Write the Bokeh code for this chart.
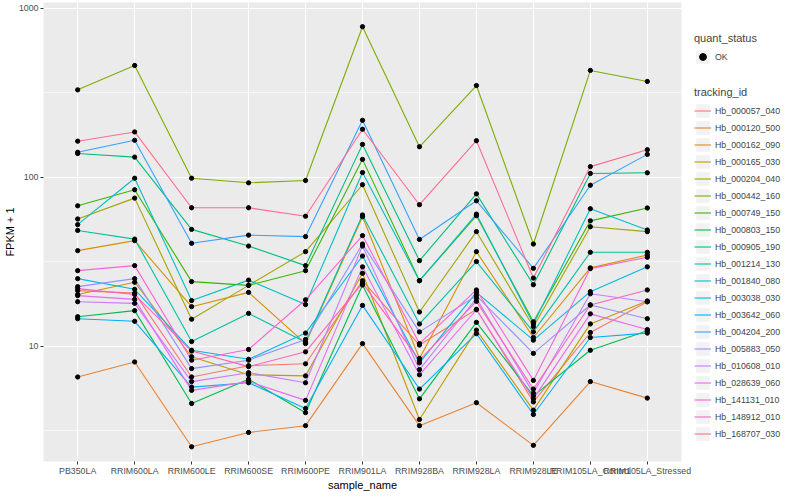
from bokeh.plotting import figure
from bokeh.models import Range1d, FixedTicker, Legend, LegendItem, BasicTickFormatter
from bokeh.layouts import row
from bokeh.embed import file_html
from bokeh.resources import INLINE

FONT = "Liberation Sans"

samples = ["PB350LA", "RRIM600LA", "RRIM600LE", "RRIM600SE", "RRIM600PE", "RRIM901LA",
           "RRIM928BA", "RRIM928LA", "RRIM928LE", "RRIM105LA_Control", "RRIM105LA_Stressed"]

tracking_ids = ["Hb_000057_040", "Hb_000120_500", "Hb_000162_090", "Hb_000165_030", "Hb_000204_040",
                "Hb_000442_160", "Hb_000749_150", "Hb_000803_150", "Hb_000905_190", "Hb_001214_130",
                "Hb_001840_080", "Hb_003038_030", "Hb_003642_060", "Hb_004204_200", "Hb_005883_050",
                "Hb_010608_010", "Hb_028639_060", "Hb_141131_010", "Hb_148912_010", "Hb_168707_030"]

colors = ["#F8766D", "#EA8331", "#D89000", "#C09B00", "#A3A500", "#7CAE00", "#39B600", "#00BB4E",
          "#00BF7D", "#00C1A3", "#00BFC4", "#00BAE0", "#00B0F6", "#35A2FF", "#9590FF", "#C77CFF",
          "#E76BF3", "#FA62DB", "#FF62BC", "#FF6C91"]

# FPKM + 1 per sample (order of `samples`)
hb_000057_040 = [21.4, 20.7, 6.6, 7.7, 7.9, 24.5, 10.2, 16.6, 4.7, 12.1, 18.4]
hb_000120_500 = [6.6, 8.1, 2.55, 3.1, 3.4, 10.4, 3.4, 4.65, 2.6, 6.2, 4.95]
hb_000162_090 = [36.9, 42.3, 17.2, 20.9, 10.4, 58.6, 8.5, 36.4, 11.3, 29.2, 34.8]
hb_000165_030 = [20.3, 24.0, 8.7, 6.8, 6.7, 27.1, 3.7, 12.5, 4.2, 13.6, 18.6]
hb_000204_040 = [56.8, 75.5, 14.5, 23.0, 36.4, 90.6, 16.0, 47.8, 13.1, 51.1, 47.8]
hb_000442_160 = [330, 460, 99, 93, 96, 780, 152, 350, 40.4, 430, 370]
hb_000749_150 = [68, 84.6, 24.2, 23.0, 28.1, 128, 24.5, 59.4, 14.0, 55.4, 66]
hb_000803_150 = [15.0, 16.3, 4.6, 6.4, 4.06, 23.1, 4.9, 13.9, 5.1, 9.5, 12.4]
hb_000905_190 = [138.6, 132, 49.3, 39.3, 30.1, 157, 32.2, 80, 23.2, 105.6, 106.6]
hb_001214_130 = [48.6, 43.2, 10.7, 15.7, 10.6, 60, 13.6, 31.8, 12.2, 36.1, 36.1]
hb_001840_080 = [52.6, 99, 18.7, 24.7, 17.7, 107, 24.5, 60.7, 13.6, 65.3, 48.9]
hb_003038_030 = [25.2, 21.8, 9.5, 8.4, 12.0, 34.3, 8.0, 20.9, 10.9, 21.1, 29.6]
hb_003642_060 = [14.6, 14.1, 5.75, 6.1, 4.3, 17.5, 5.6, 11.9, 3.96, 11.3, 12.0]
hb_004204_200 = [141, 166, 40.8, 45.6, 44.7, 218, 43, 72.8, 29, 90, 137]
hb_005883_050 = [22.6, 25.2, 7.4, 8.3, 11.0, 40.4, 12.2, 20.0, 9.1, 17.6, 14.6]
hb_010608_010 = [18.4, 18.0, 6.2, 7.0, 6.1, 39.3, 7.3, 19.3, 5.3, 20.5, 18.4]
hb_028639_060 = [20.0, 19.0, 5.5, 6.2, 4.8, 29.6, 6.8, 16.5, 4.9, 15.6, 12.6]
hb_141131_010 = [28.1, 30.1, 8.3, 9.6, 18.9, 45.3, 10.4, 21.6, 6.3, 28.9, 33.7]
hb_148912_010 = [22.0, 20.3, 9.4, 7.6, 9.3, 23.7, 8.3, 18.5, 5.6, 17.6, 21.6]
hb_168707_030 = [164, 186, 66.2, 66.2, 59, 193, 69, 165, 25.4, 116, 146]

series = [hb_000057_040, hb_000120_500, hb_000162_090, hb_000165_030, hb_000204_040,
          hb_000442_160, hb_000749_150, hb_000803_150, hb_000905_190, hb_001214_130,
          hb_001840_080, hb_003038_030, hb_003642_060, hb_004204_200, hb_005883_050,
          hb_010608_010, hb_028639_060, hb_141131_010, hb_148912_010, hb_168707_030]

y_ticks = [10, 100, 1000]
y_minor = [10 ** 0.5, 10 ** 1.5, 10 ** 2.5]

FH = 459
p = figure(frame_width=638, frame_height=FH, y_axis_type="log",
           x_range=Range1d(-0.6, len(samples) - 0.4), y_range=Range1d(2.087, 1085),
           output_backend="svg", toolbar_location=None,
           min_border_left=37, min_border_right=13, min_border_top=2, min_border_bottom=0,
           background_fill_color="#EBEBEB", border_fill_color="white", outline_line_color=None)

x = list(range(len(samples)))

for vals, col in zip(series, colors):
    p.line(x, vals, line_color=col, line_width=1.1)

px = [xi for vals in series for xi in x]
py = [v for vals in series for v in vals]
p.scatter(px, py, size=4.3, color="black")

# axes
p.xaxis.ticker = FixedTicker(ticks=x)
p.xaxis.major_label_overrides = {i: s for i, s in enumerate(samples)}
p.yaxis.ticker = FixedTicker(ticks=y_ticks, minor_ticks=y_minor)
p.yaxis[0].formatter = BasicTickFormatter()
p.xaxis.axis_label = "sample_name"
p.yaxis.axis_label = "FPKM + 1"
for ax in (p.xaxis[0], p.yaxis[0]):
    ax.axis_line_color = None
    ax.major_tick_line_color = "#333333"
    ax.major_tick_out = 3
    ax.major_tick_in = 0
    ax.minor_tick_line_color = None
    ax.major_label_text_font = FONT
    ax.major_label_text_font_size = "8.8px"
    ax.major_label_text_color = "#4D4D4D"
    ax.axis_label_text_font = FONT
    ax.axis_label_text_font_size = "11px"
    ax.axis_label_text_font_style = "normal"
    ax.axis_label_text_color = "black"
    ax.major_label_standoff = 1
    ax.axis_label_standoff = 0

p.xgrid.grid_line_color = "white"
p.xgrid.grid_line_width = 1.1
p.ygrid.grid_line_color = "white"
p.ygrid.grid_line_width = 1.1
p.ygrid.minor_grid_line_color = "white"
p.ygrid.minor_grid_line_width = 0.55

# legend panel (separate figure so the legends sit beside the plot)
LH = 480
lf = figure(width=92, height=LH, output_backend="svg", toolbar_location=None,
            x_axis_location=None, y_axis_location=None,
            min_border_left=0, min_border_right=0, min_border_top=0, min_border_bottom=0,
            background_fill_color=None, border_fill_color="white", outline_line_color=None,
            x_range=Range1d(0, 1), y_range=Range1d(0, 1))
lf.grid.visible = False
# off-screen stand-ins that only supply legend keys
bg = lf.quad(left=[5], right=[6], top=[6], bottom=[5], fill_color="#F2F2F2", line_color=None)
dot = lf.scatter(x=[5], y=[5], size=4.3, color="black")
key_lines = [lf.line(x=[5, 6], y=[5, 5], line_color=c, line_width=1.1) for c in colors]

leg1 = Legend(items=[LegendItem(label="OK", renderers=[bg, dot])], title="quant_status",
              location=(0, 383))
leg2 = Legend(items=[LegendItem(label=t, renderers=[bg, r]) for t, r in zip(tracking_ids, key_lines)],
              title="tracking_id", location=(0, 6))
for lg in (leg1, leg2):
    lg.title_text_font = FONT
    lg.title_text_font_size = "11px"
    lg.title_text_font_style = "normal"
    lg.label_text_font = FONT
    lg.label_text_font_size = "8.8px"
    lg.glyph_width = 17
    lg.glyph_height = 17
    lg.label_height = 17
    lg.label_standoff = 4
    lg.spacing = 0
    lg.padding = 0
    lg.margin = 0
    lg.title_standoff = 4
    lg.border_line_color = None
    lg.background_fill_alpha = 0
    lf.add_layout(lg, "center")

layout = row(p, lf)
open("out.html", "w").write(file_html(layout, INLINE))
